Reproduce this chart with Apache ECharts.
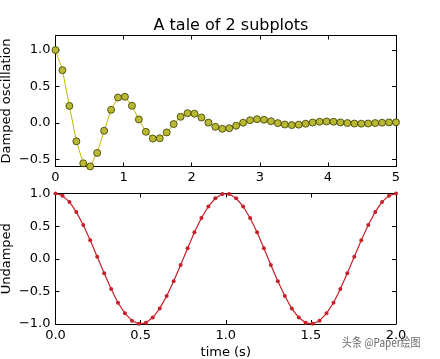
<!DOCTYPE html>
<html><head><meta charset="utf-8">
<script src="https://cdn.jsdelivr.net/npm/echarts@6/dist/echarts.min.js"></script>
<style>html,body{margin:0;padding:0;background:#fff}#c{width:440px;height:359px}</style>
</head><body><div id="c"></div>
<script>
const titleText = 'A tale of 2 subplots';
const yLabelTop = 'Damped oscillation';
const yLabelBottom = 'Undamped';
const xLabelBottom = 'time (s)';
const watermark = '头条 @Paper绘图';

const x1 = [0, 0.102, 0.204, 0.306, 0.408, 0.510, 0.612, 0.714, 0.816, 0.918, 1.020, 1.122, 1.224, 1.327, 1.429, 1.531, 1.633, 1.735, 1.837, 1.939, 2.041, 2.143, 2.245, 2.347, 2.449, 2.551, 2.653, 2.755, 2.857, 2.959, 3.061, 3.163, 3.265, 3.367, 3.469, 3.571, 3.673, 3.776, 3.878, 3.980, 4.082, 4.184, 4.286, 4.388, 4.490, 4.592, 4.694, 4.796, 4.898, 5.0];
const y1 = [1.000, 0.724, 0.232, -0.254, -0.556, -0.599, -0.414, -0.109, 0.179, 0.348, 0.358, 0.234, 0.047, -0.123, -0.216, -0.212, -0.132, -0.017, 0.083, 0.133, 0.126, 0.073, 0.003, -0.055, -0.082, -0.074, -0.040, 0.002, 0.036, 0.050, 0.043, 0.022, -0.004, -0.023, -0.031, -0.025, -0.012, 0.004, 0.015, 0.019, 0.015, 0.006, -0.003, -0.010, -0.011, -0.009, -0.003, 0.002, 0.006, 0.007];

const x2 = [0, 0.041, 0.082, 0.122, 0.163, 0.204, 0.245, 0.286, 0.327, 0.367, 0.408, 0.449, 0.490, 0.531, 0.571, 0.612, 0.653, 0.694, 0.735, 0.776, 0.816, 0.857, 0.898, 0.939, 0.980, 1.020, 1.061, 1.102, 1.143, 1.184, 1.224, 1.265, 1.306, 1.347, 1.388, 1.429, 1.469, 1.510, 1.551, 1.592, 1.633, 1.673, 1.714, 1.755, 1.796, 1.837, 1.878, 1.918, 1.959, 2.0];
const y2 = [1.000, 0.967, 0.871, 0.718, 0.518, 0.285, 0.032, -0.223, -0.463, -0.674, -0.837, -0.949, -0.998, -0.982, -0.901, -0.764, -0.572, -0.346, -0.096, 0.160, 0.405, 0.624, 0.801, 0.927, 0.992, 0.992, 0.927, 0.801, 0.624, 0.405, 0.160, -0.096, -0.346, -0.572, -0.764, -0.901, -0.982, -0.998, -0.949, -0.837, -0.674, -0.463, -0.223, 0.032, 0.285, 0.518, 0.718, 0.871, 0.967, 1.000];

const topXTicks = [0, 1, 2, 3, 4, 5];
const topYTicks = [-0.5, 0.0, 0.5, 1.0];
const botXTicks = [0.0, 0.5, 1.0, 1.5, 2.0];
const botYTicks = [-1.0, -0.5, 0.0, 0.5, 1.0];

const FONT = 'DejaVu Sans';
const fmt1 = v => Number(v).toFixed(1).replace('-', '\u2212');
const fmt0 = v => String(Math.round(v)).replace('-', '\u2212');

function axis(type, opts) {
  const base = {
    type: 'value',
    axisLine: { show: true, onZero: false, lineStyle: { color: '#000', width: 1 } },
    axisTick: { show: true, inside: true, length: 4, lineStyle: { color: '#000', width: 1 }, customValues: opts.ticks },
    axisLabel: { show: opts.labels, color: '#000', fontFamily: FONT, fontSize: 13, margin: 5, customValues: opts.ticks, formatter: opts.fmt },
    splitLine: { show: false },
    min: opts.min, max: opts.max,
    gridIndex: opts.grid,
    position: opts.position
  };
  if (opts.name) {
    base.name = opts.name;
    base.nameLocation = 'middle';
    base.nameGap = opts.nameGap;
    base.nameMoveOverlap = false;
    base.nameTextStyle = { color: '#000', fontFamily: FONT, fontSize: 13 };
  }
  return base;
}

const chart = echarts.init(document.getElementById('c'), null, { renderer: 'canvas' });
chart.setOption({
  animation: false,
  backgroundColor: '#fff',
  title: { text: titleText, left: 226, top: 13, textAlign: 'center',
    textStyle: { color: '#000', fontFamily: FONT, fontSize: 16, fontWeight: 'normal' } },
  grid: [
    { left: 55.5, right: 44, top: 35.5, height: 131, containLabel: false, outerBoundsMode: 'none' },
    { left: 55.5, right: 44, top: 193.5, height: 130.5, containLabel: false, outerBoundsMode: 'none' }
  ],
  xAxis: [
    axis('x', { grid: 0, min: 0, max: 5, ticks: topXTicks, labels: true, fmt: fmt0, position: 'bottom' }),
    axis('x', { grid: 0, min: 0, max: 5, ticks: topXTicks, labels: false, position: 'top' }),
    axis('x', { grid: 1, min: 0, max: 2, ticks: botXTicks, labels: true, fmt: fmt1, position: 'bottom', name: xLabelBottom, nameGap: 22 }),
    axis('x', { grid: 1, min: 0, max: 2, ticks: botXTicks, labels: false, position: 'top' })
  ],
  yAxis: [
    axis('y', { grid: 0, min: -0.6, max: 1.2, ticks: topYTicks, labels: true, fmt: fmt1, position: 'left', name: yLabelTop, nameGap: 42 }),
    axis('y', { grid: 0, min: -0.6, max: 1.2, ticks: topYTicks, labels: false, position: 'right' }),
    axis('y', { grid: 1, min: -1, max: 1, ticks: botYTicks, labels: true, fmt: fmt1, position: 'left', name: yLabelBottom, nameGap: 42 }),
    axis('y', { grid: 1, min: -1, max: 1, ticks: botYTicks, labels: false, position: 'right' })
  ],
  series: [
    { type: 'line', xAxisIndex: 0, yAxisIndex: 0, data: x1.map((x, i) => [x, y1[i]]),
      symbol: 'circle', symbolSize: 7, showAllSymbol: true,
      lineStyle: { color: '#bfbf00', width: 1 },
      itemStyle: { color: '#b8b832', borderColor: '#3a3a00', borderWidth: 0.8 } },
    { type: 'line', xAxisIndex: 2, yAxisIndex: 2, data: x2.map((x, i) => [x, y2[i]]),
      symbol: 'circle', symbolSize: 4, showAllSymbol: true,
      lineStyle: { color: '#c8202a', width: 1.2 },
      itemStyle: { color: '#c8202a', borderWidth: 0 } }
  ],
  graphic: [
    { type: 'text', x: 342, y: 336, scaleX: 0.83, style: { text: watermark, fill: '#6a6a6a', font: '12px "Noto Sans CJK SC"' } }
  ]
});
</script></body></html>
